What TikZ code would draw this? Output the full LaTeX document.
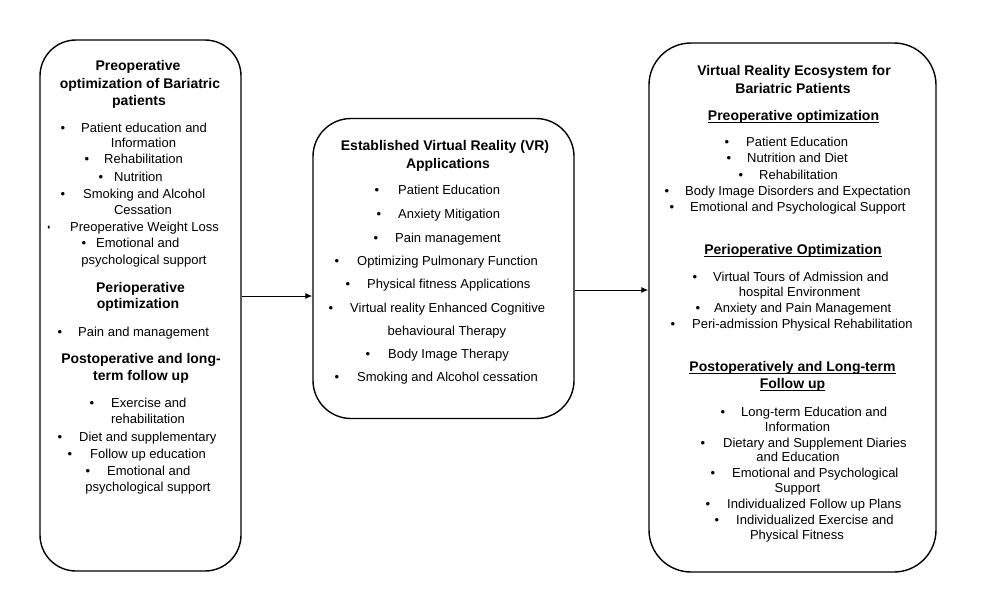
\documentclass[tikz,border=0pt]{standalone}
\usepackage{fontspec}
\setmainfont{Liberation Sans}
\usetikzlibrary{arrows.meta}
\newcounter{ln}
% bullet line: bullet x, text x, y, text
\newcommand{\bl}[4]{\stepcounter{ln}%
  \node[txt,anchor=base] (b\theln) at (#1,#3+4.6) {\textbullet};%
  \node[txt,anchor=base west] (t\theln) at (#2,#3+4.6) {#4};}
% centered regular line: x, y, text
\newcommand{\cl}[3]{\stepcounter{ln}%
  \node[txt,anchor=base] (c\theln) at (#1,#2+4.6) {#3};}
% centered bold line
\newcommand{\hd}[3]{\stepcounter{ln}%
  \node[hdr,anchor=base] (h\theln) at (#1,#2+5) {#3};}
% underlined bold line
\newcommand{\uh}[3]{\stepcounter{ln}%
  \node[hdr,anchor=base] (u\theln) at (#1,#2+5) {#3};%
  \draw[line width=1pt] ([yshift=-2.6pt]u\theln.base west) -- ([yshift=-2.6pt]u\theln.base east);}
\begin{document}
\begin{tikzpicture}[x=1pt,y=-1pt,
  txt/.style={inner sep=0pt,font=\fontsize{13}{15}\selectfont},
  hdr/.style={inner sep=0pt,font=\fontsize{14}{16}\selectfont\bfseries},
  boxA/.style={draw,line width=1.4pt,rectangle,inner sep=0pt},
  arr/.style={line width=1pt,-{Latex[length=7pt,width=6pt]}}]
\useasboundingbox (0,0) rectangle (986,605);
% boxes
\node[boxA,rounded corners=36pt,minimum width=201pt,minimum height=531pt] (left) at (140.5,305.5) {};
\node[boxA,rounded corners=38pt,minimum width=261pt,minimum height=300pt] (mid) at (443.5,268.5) {};
\node[boxA,rounded corners=42pt,minimum width=287pt,minimum height=529pt] (right) at (792.5,307.5) {};
% arrows
\coordinate (a1) at (0,296);
\coordinate (a2) at (0,290);
\draw[arr] (left.east |- a1) -- (mid.west |- a1);
\draw[arr] (mid.east |- a2) -- (right.west |- a2);
% left box
\hd{138}{65}{Preoperative}
\hd{140}{83}{optimization of Bariatric}
\hd{139}{100}{patients}
\bl{63}{81}{128}{Patient education and}
\cl{143.5}{143}{Information}
\bl{87}{104}{159}{Rehabilitation}
\bl{101}{114}{177}{Nutrition}
\bl{63}{83}{194}{Smoking and Alcohol}
\cl{143}{210}{Cessation}
\stepcounter{ln}
\node[txt,anchor=base] (b\theln) at (49,227+4.6) {\scalebox{0.55}[0.9]{\textbullet}};
\node[txt,anchor=base west] (t\theln) at (70,227+4.6) {Preoperative Weight Loss};
\bl{84}{96}{243}{Emotional and}
\cl{144}{260}{psychological support}
\hd{140.5}{287}{Perioperative}
\hd{138}{303}{optimization}
\bl{60}{78}{332}{Pain and management}
\hd{141}{358}{Postoperative and long-}
\hd{141}{375}{term follow up}
\bl{92}{111}{403}{Exercise and}
\cl{148}{419}{rehabilitation}
\bl{60}{79}{437}{Diet and supplementary}
\bl{70}{90}{454}{Follow up education}
\bl{88}{107}{471}{Emotional and}
\cl{148}{487}{psychological support}
% middle box
\hd{445}{145}{Established Virtual Reality (VR)}
\hd{448}{163}{Applications}
\bl{377}{398}{190}{Patient Education}
\bl{379}{398}{214}{Anxiety Mitigation}
\bl{376}{395}{238}{Pain management}
\bl{337}{357}{261}{Optimizing Pulmonary Function}
\bl{348}{367}{284}{Physical fitness Applications}
\bl{331}{350}{308}{Virtual reality Enhanced Cognitive}
\cl{447}{331}{behavioural Therapy}
\bl{368}{388}{354}{Body Image Therapy}
\bl{337}{357}{377}{Smoking and Alcohol cessation}
% right box
\hd{794}{70}{Virtual Reality Ecosystem for}
\hd{793}{88}{Bariatric Patients}
\uh{793.5}{115}{Preoperative optimization}
\bl{727}{746}{142}{Patient Education}
\bl{729}{747}{158}{Nutrition and Diet}
\bl{741}{759}{175}{Rehabilitation}
\bl{667}{685}{191}{Body Image Disorders and Expectation}
\bl{672}{690}{207}{Emotional and Psychological Support}
\uh{793}{249}{Perioperative Optimization}
\bl{695}{713}{277}{Virtual Tours of Admission and}
\cl{799.5}{292}{hospital Environment}
\bl{698}{714}{308}{Anxiety and Pain Management}
\bl{673}{692}{324}{Peri-admission Physical Rehabilitation}
\uh{792.5}{366}{Postoperatively and Long-term}
\uh{792.5}{383}{Follow up}
\bl{723}{741}{412}{Long-term Education and}
\cl{797.5}{427}{Information}
\bl{703}{723}{443}{Dietary and Supplement Diaries}
\cl{798}{457}{and Education}
\bl{713}{732}{473}{Emotional and Psychological}
\cl{797.5}{488}{Support}
\bl{708}{727}{504}{Individualized Follow up Plans}
\bl{717}{736}{520}{Individualized Exercise and}
\cl{797}{535}{Physical Fitness}
\end{tikzpicture}
\end{document}
